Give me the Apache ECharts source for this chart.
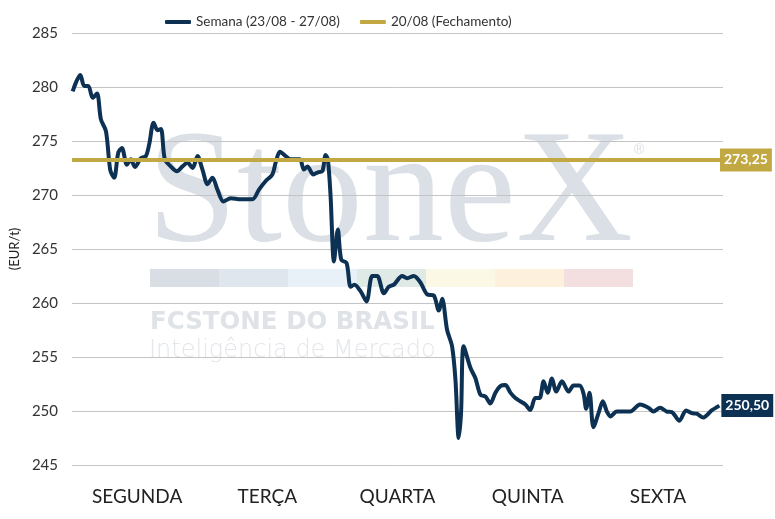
<!DOCTYPE html>
<html lang="pt">
  <head>
    <meta charset="UTF-8" />
    <title>Semana</title>
    <script src="https://cdn.jsdelivr.net/npm/echarts@6.0.0/dist/echarts.min.js"></script>
    <style>
      html, body { margin: 0; padding: 0; background: #fff; }
    </style>
  </head>
  <body>
    <div id="main" style="width: 775px; height: 519px"></div>
    <script type="text/javascript">
      const days = ["SEGUNDA", "TERÇA", "QUARTA", "QUINTA", "SEXTA"];
      const yTicks = { min: 245, max: 285, step: 5 };
      const closeValue = 273.25; // 20/08 fechamento

      // time in trading days since monday open
      const times = [
        0.005, 0.064, 0.094, 0.125, 0.159, 0.192, 0.222, 0.261, 0.294, 0.324,
        0.355, 0.383, 0.422, 0.452, 0.483, 0.529, 0.567, 0.593, 0.627, 0.657,
        0.683, 0.713, 0.758, 0.805, 0.849, 0.887, 0.926, 0.964, 1.002, 1.041,
        1.079, 1.117, 1.163, 1.219, 1.296, 1.386, 1.436, 1.488, 1.539, 1.564,
        1.597, 1.641, 1.679, 1.718, 1.751, 1.781, 1.808, 1.854, 1.889, 1.923,
        1.948, 1.965, 1.986, 2.012, 2.042, 2.068, 2.109, 2.14, 2.17, 2.216,
        2.262, 2.306, 2.344, 2.395, 2.433, 2.472, 2.536, 2.574, 2.625, 2.676,
        2.728, 2.778, 2.817, 2.843, 2.881, 2.919, 2.945, 2.97, 2.988, 3.008,
        3.06, 3.098, 3.137, 3.175, 3.213, 3.252, 3.29, 3.328, 3.367, 3.405,
        3.443, 3.482, 3.52, 3.558, 3.591, 3.622, 3.653, 3.686, 3.719, 3.763,
        3.814, 3.852, 3.898, 3.929, 3.949, 3.975, 4.005, 4.044, 4.077, 4.108,
        4.136, 4.185, 4.287, 4.363, 4.427, 4.466, 4.517, 4.568, 4.607, 4.665,
        4.716, 4.76, 4.798, 4.849, 4.913, 4.972
      ];
      const prices = [
        279.6, 281.1, 280.1, 280.1, 279.0, 279.4, 277.0, 275.9, 272.3, 271.6,
        273.9, 274.35, 272.8, 273.3, 272.6, 273.4, 273.6, 274.7, 276.7, 276.0,
        276.1, 273.3, 272.65, 272.2, 272.65, 273.0, 272.5, 273.6, 272.35, 271.0,
        271.6, 270.5, 269.4, 269.7, 269.6, 269.6, 270.5, 271.3, 271.9, 273.0,
        274.0, 273.6, 273.3, 273.3, 273.3, 272.35, 272.65, 271.9, 272.1, 272.2,
        273.7, 273.3, 269.9, 263.85, 266.8, 264.0, 263.7, 261.5, 261.7, 261.1,
        260.15, 262.5, 262.5, 260.9, 261.5, 261.7, 262.5, 262.3, 262.5, 261.9,
        260.8, 260.7, 259.3, 260.4, 257.5, 256.0, 252.9, 247.5, 249.8, 256.0,
        254.0, 253.05, 251.5, 251.35, 250.7, 251.7, 252.3, 252.4, 251.7, 251.2,
        250.9, 250.6, 250.1, 251.2, 251.2, 252.75, 251.7, 253.0, 251.8, 252.75,
        251.8, 252.35, 252.35, 251.6, 250.2, 251.7, 248.5, 249.8, 250.9, 249.95,
        249.5, 249.95, 249.95, 250.6, 250.3, 249.95, 250.3, 249.95, 249.9, 249.1,
        250.05, 249.8, 249.75, 249.4, 250.05, 250.5
      ];

      const navy = "#0d3153";
      const gold = "#c2a843";
      const font = "Lato";
      const fmt = (v) => v.toFixed(2).replace(".", ",");

      const bandColors = ["#d9dee5", "#e0e6ee", "#e8f0f8", "#dfe9e5", "#fbf8e6", "#fdf0dc", "#f3dfe0"];
      const band = bandColors.map((c, i) => ({
        type: "rect",
        left: 150 + i * 69,
        top: 269,
        shape: { width: 69, height: 18 },
        style: { fill: c },
        silent: true,
        z: -10,
      }));

      let options = {
        animation: false,
        textStyle: { fontFamily: font },
        graphic: [
          {
            type: "text",
            left: 147,
            top: 116,
            silent: true,
            z: -10,
            style: {
              text: "StoneX",
              fill: "#dbe0e6",
              font: "162px 'Liberation Serif'",
            },
          },
          {
            type: "text",
            left: 634,
            top: 143,
            silent: true,
            z: -10,
            style: { text: "®", fill: "#dbe0e6", font: "14px 'Liberation Sans'" },
          },
          ...band,
          {
            type: "text",
            left: 150,
            top: 310,
            silent: true,
            z: -10,
            style: {
              text: "FCSTONE DO BRASIL",
              fill: "#dfe3e8",
              font: "bold 24.5px 'DejaVu Sans'",
            },
          },
          {
            type: "text",
            left: 149,
            top: 339,
            silent: true,
            z: -10,
            style: {
              text: "Inteligência de Mercado",
              fill: "#e3e6ea",
              font: "200 24px 'DejaVu Sans'",
            },
          },
        ],
        legend: {
          left: 160,
          top: 10,
          itemWidth: 26,
          itemHeight: 4,
          itemGap: 20,
          icon: "roundRect",
          textStyle: { fontSize: 13.5, color: "#333", fontFamily: font },
          data: ["Semana (23/08 - 27/08)", "20/08 (Fechamento)"],
        },
        grid: { left: 71, right: 52, top: 33, bottom: 54 },
        xAxis: [
          {
            type: "category",
            data: days,
            axisLine: { show: false },
            axisTick: { show: false },
            axisLabel: { fontSize: 19, color: "#222", margin: 22, fontFamily: font },
          },
          {
            type: "value",
            min: 0,
            max: days.length,
            show: false,
          },
        ],
        yAxis: {
          type: "value",
          min: yTicks.min,
          max: yTicks.max,
          interval: yTicks.step,
          name: "(EUR/t)",
          nameLocation: "middle",
          nameRotate: 90,
          nameGap: 51,
          nameTextStyle: { fontSize: 13, color: "#222", fontFamily: font },
          axisLine: { show: false },
          axisTick: { show: false },
          axisLabel: { fontSize: 15, color: "#333", margin: 14, fontFamily: font },
          splitLine: { lineStyle: { color: "#c4c4c4", width: 1 } },
        },
        series: [
          {
            name: "Semana (23/08 - 27/08)",
            type: "line",
            xAxisIndex: 1,
            smooth: 0.3,
            showSymbol: false,
            symbol: "none",
            z: 4,
            color: navy,
            lineStyle: { width: 4, color: navy },
            data: times.map((t, i) => [t, prices[i]]),
            endLabel: {
              show: true,
              formatter: (p) => fmt(p.value[1]),
              backgroundColor: navy,
              color: "#fff",
              fontSize: 14,
              fontWeight: "bold",
              padding: [5, 4, 4, 4],
              distance: 2,
              fontFamily: font,
            },
          },
          {
            name: "20/08 (Fechamento)",
            type: "line",
            xAxisIndex: 1,
            z: 2,
            color: gold,
            lineStyle: { width: 4, color: gold },
            data: [],
            markLine: {
              silent: true,
              symbol: "none",
              lineStyle: { type: "solid", width: 4, color: gold },
              label: {
                position: "end",
                formatter: () => fmt(closeValue),
                backgroundColor: gold,
                color: "#fff",
                fontSize: 14,
                fontWeight: "bold",
                padding: [5, 4, 4, 4],
                distance: -3,
                fontFamily: font,
              },
              data: [{ yAxis: closeValue }],
            },
          },
        ],
      };

      let myChart = echarts.init(document.getElementById("main"));
      myChart.setOption(options);
    </script>
  </body>
</html>
